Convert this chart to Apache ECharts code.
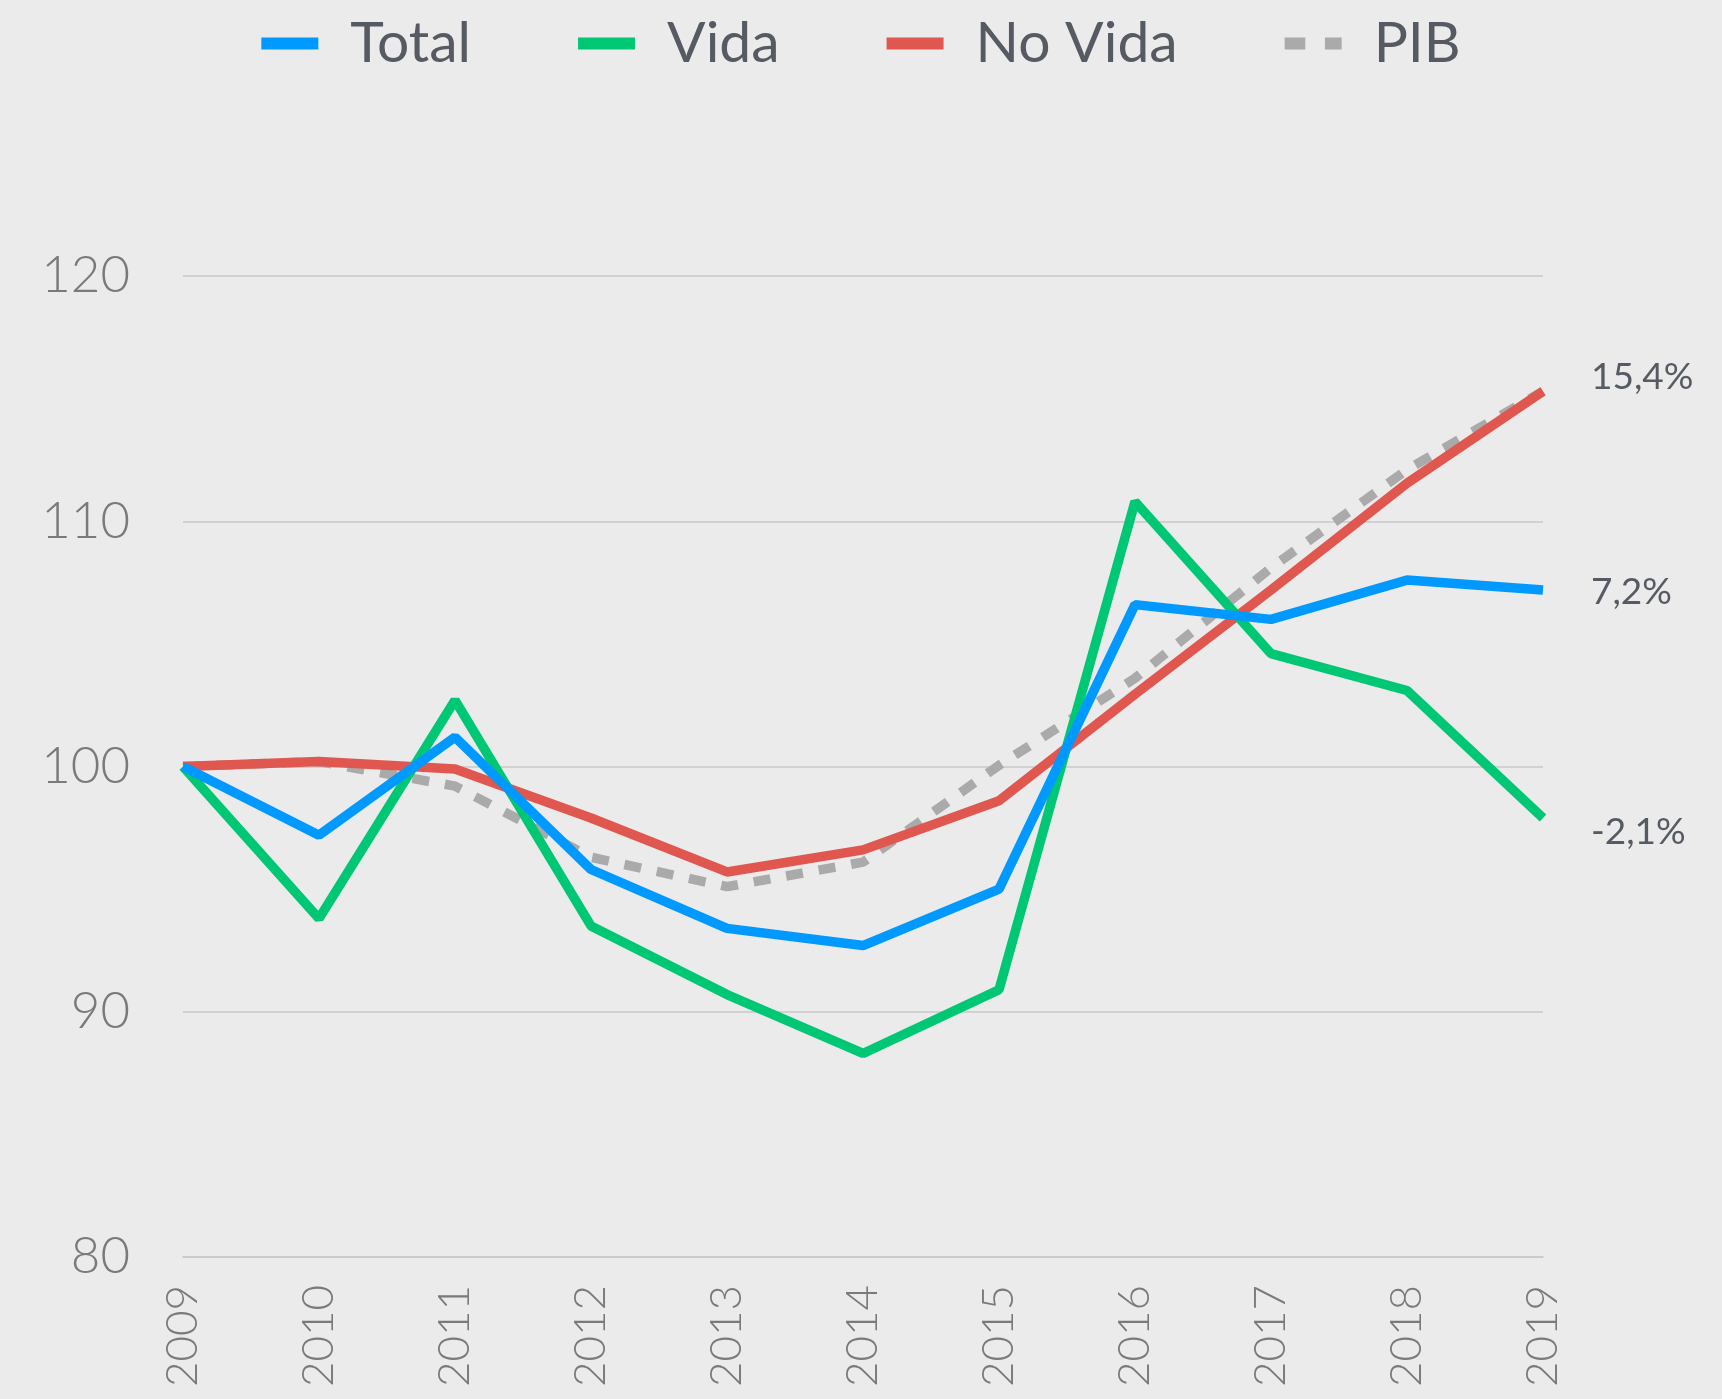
<!DOCTYPE html>
<html lang="es">

<head>
  <meta charset="UTF-8" />
  <title>Total, Vida, No Vida y PIB</title>
  <script src="https://cdn.jsdelivr.net/npm/echarts@6/dist/echarts.min.js"></script>
  <style>
    html, body {
      margin: 0;
      padding: 0;
      background-color: #ebebeb;
    }

    #main {
      width: 1722px;
      height: 1399px;
    }
  </style>
</head>

<body>
  <div id="main"></div>

  <script>
    const years = ["2009", "2010", "2011", "2012", "2013", "2014", "2015", "2016", "2017", "2018", "2019"];

    const total = [100, 97.2, 101.2, 95.8, 93.4, 92.7, 95.0, 106.6, 106.0, 107.6, 107.2];
    const vida = [100, 93.8, 102.7, 93.5, 90.7, 88.3, 90.9, 110.8, 104.6, 103.1, 97.9];
    const noVida = [100, 100.2, 99.9, 97.9, 95.7, 96.6, 98.6, 102.95, 107.2, 111.55, 115.3];
    const pib = [100, 100.2, 99.2, 96.3, 95.1, 96.1, 100.05, 103.6, 108.1, 112.1, 115.3];

    // etiquetas al final de cada serie
    const endTotal = "7,2%";
    const endVida = "-2,1%";
    const endNoVida = "15,4%";

    const chart = echarts.init(document.getElementById("main"));

    const textColor = "#555a63";
    const axisColor = "#7a7a7a";

    function endLabel(text, dy) {
      return {
        show: true,
        formatter: () => text,
        color: textColor,
        fontFamily: "Lato",
        fontSize: 37,
        distance: 48,
        offset: [0, dy],
      };
    }

    chart.setOption({
      backgroundColor: "#ebebeb",
      animation: false,
      legend: {
        top: 10,
        left: "center",
        itemWidth: 57,
        itemHeight: 12,
        itemGap: 107,
        textStyle: {
          color: textColor,
          fontFamily: "Lato",
          fontSize: 57,
          padding: [0, 0, 0, 27],
        },
        data: [
          { name: "Total", icon: "rect" },
          { name: "Vida", icon: "rect" },
          { name: "No Vida", icon: "rect" },
          { name: "PIB", icon: "path://M0,0h21v12h-21z M41,0h17v12h-17z" },
        ],
      },
      grid: {
        left: 183,
        right: 179,
        top: 276,
        bottom: 142,
        containLabel: false,
      },
      xAxis: {
        type: "category",
        data: years,
        boundaryGap: false,
        axisLine: { lineStyle: { color: "#c8c8c8", width: 1.5 } },
        axisTick: { show: false },
        axisLabel: {
          rotate: 90,
          margin: 28,
          color: axisColor,
          fontFamily: "Lato",
          fontWeight: 300,
          fontSize: 44,
        },
      },
      yAxis: {
        type: "value",
        min: 80,
        max: 120,
        interval: 10,
        axisLine: { show: false },
        axisTick: { show: false },
        splitLine: { lineStyle: { color: "#c8c8c8", width: 1.5 } },
        axisLabel: {
          margin: 53,
          color: axisColor,
          fontFamily: "Lato",
          fontWeight: 300,
          fontSize: 51,
        },
      },
      series: [
        {
          name: "Total",
          type: "line",
          data: total,
          symbol: "none",
          z: 5,
          itemStyle: { color: "#0099ff" },
          lineStyle: { color: "#0099ff", width: 9.5 },
          endLabel: endLabel(endTotal, 2),
        },
        {
          name: "Vida",
          type: "line",
          data: vida,
          symbol: "none",
          z: 4,
          itemStyle: { color: "#00c774" },
          lineStyle: { color: "#00c774", width: 9.5 },
          endLabel: endLabel(endVida, 14),
        },
        {
          name: "No Vida",
          type: "line",
          data: noVida,
          symbol: "none",
          z: 3,
          itemStyle: { color: "#e05750" },
          lineStyle: { color: "#e05750", width: 9.5 },
          endLabel: endLabel(endNoVida, -14),
        },
        {
          name: "PIB",
          type: "line",
          data: pib,
          symbol: "none",
          z: 2,
          itemStyle: { color: "#aaaaaa" },
          lineStyle: { color: "#aaaaaa", width: 9.5, type: [17, 16] },
        },
      ],
    });
  </script>
</body>

</html>
